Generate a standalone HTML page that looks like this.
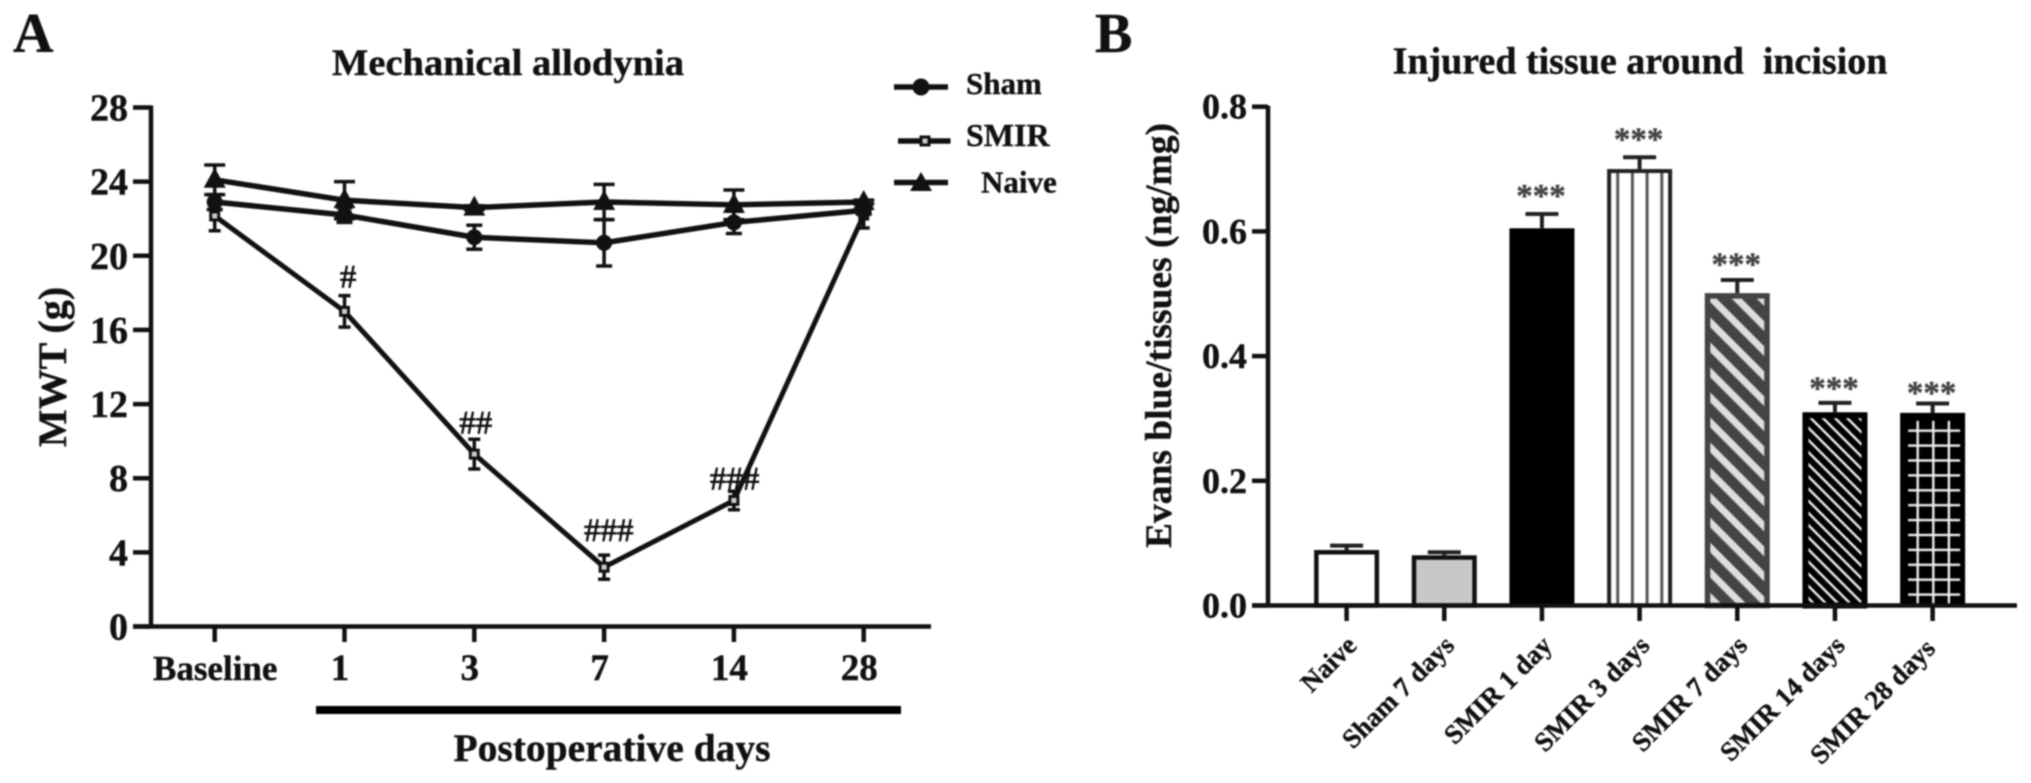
<!DOCTYPE html>
<html lang="en">
<head>
<meta charset="utf-8">
<title>Mechanical allodynia and injured tissue charts</title>
<style>
html,body{margin:0;padding:0;background:#fff;width:2031px;height:783px;overflow:hidden}
svg{display:block;filter:blur(0.8px)}
text{font-family:"Liberation Serif",serif;font-weight:bold;fill:#111;stroke:#111;stroke-width:0.4px;white-space:pre}
</style>
</head>
<body>
<svg id="fig" xmlns="http://www.w3.org/2000/svg" width="2031" height="783" viewBox="0 0 2031 783">
  <defs>
    <pattern id="vlines" patternUnits="userSpaceOnUse" x="1610.3" y="0" width="14.7" height="10">
      <rect width="14.7" height="10" fill="#fff"/>
      <rect x="5.9" width="3" height="10" fill="#555"/>
    </pattern>
    <pattern id="diag-wide" patternUnits="userSpaceOnUse" width="17.7" height="17.7" patternTransform="translate(1700 300) rotate(45)">
      <rect width="17.7" height="17.7" fill="#444"/>
      <rect y="5" width="17.7" height="7" fill="#ddd"/>
    </pattern>
    <pattern id="diag-fine" patternUnits="userSpaceOnUse" width="8.6" height="8.6" patternTransform="rotate(45)">
      <rect width="8.6" height="8.6" fill="#000"/>
      <rect y="3" width="8.6" height="2.4" fill="#eee"/>
    </pattern>
    <pattern id="grid" patternUnits="userSpaceOnUse" x="1910" y="423.25" width="15.6" height="14.9">
      <rect x="6.5" width="2.4" height="14.9" fill="#eee"/>
      <rect y="6.25" width="15.6" height="2.4" fill="#eee"/>
    </pattern>
  </defs>

  <text x="13" y="52" font-size="56">A</text>
  <text x="1095" y="52" font-size="56">B</text>

  <text x="508" y="75" font-size="37" text-anchor="middle" textLength="352" lengthAdjust="spacingAndGlyphs">Mechanical allodynia</text>
  <text x="1640" y="73.5" font-size="38" text-anchor="middle">Injured tissue around  incision</text>

  <text transform="translate(66 367) rotate(-90)" font-size="40" text-anchor="middle">MWT (g)</text>
  <text transform="translate(1171 335.5) rotate(-90)" font-size="37.5" text-anchor="middle">Evans blue/tissues (ng/mg)</text>

  <rect x="316" y="706" width="585" height="8" fill="#000"/>
  <text x="612" y="761" font-size="39.5" text-anchor="middle">Postoperative days</text>

  <g stroke="#111" fill="#111">
    <g>
      <line x1="894" y1="87" x2="948" y2="87" stroke-width="5.5"/>
      <circle cx="921" cy="87" r="8"/>
      <text x="966" y="94" font-size="31">Sham</text>
    </g>
    <g>
      <line x1="898" y1="141" x2="950.5" y2="141" stroke-width="5.5"/>
      <rect x="921" y="137" width="8" height="8" fill="#ccc" stroke-width="3"/>
      <text x="966" y="146" font-size="32">SMIR</text>
    </g>
    <g>
      <line x1="894" y1="182.5" x2="948" y2="182.5" stroke-width="5.5"/>
      <polygon points="921,172 932,191 910,191" stroke="none"/>
      <text x="981" y="192.5" font-size="31">Naive</text>
    </g>
  </g>

  <g id="chart-a"></g>
  <g id="chart-b"></g>
</svg>

<script>
// Chart A data
const timepoints = ['Baseline', '1', '3', '7', '14', '28'];
const mwtTicks = [0, 4, 8, 12, 16, 20, 24, 28];
const shamValues = [22.9, 22.2, 21.0, 20.7, 21.8, 22.45];
const shamErrors = [0.4, 0.4, 0.65, 1.25, 0.6, 0.2];
const smirValues = [22.15, 17.0, 9.3, 3.2, 6.8, 22.2];
const smirErrors = [0.8, 0.85, 0.8, 0.65, 0.5, 0.7];
const naiveValues = [24.1, 23.0, 22.6, 22.9, 22.75, 22.9];
const naiveErrors = [0.8, 1.0, 0.1, 0.95, 0.8, 0.1];
const hashMarks = ['', '#', '##', '###', '###', ''];
const hashLevels = [0, 18.3, 10.4, 4.6, 7.4, 0];

// Chart B data
const tissueGroups = ['Naive', 'Sham 7 days', 'SMIR 1 day', 'SMIR 3 days', 'SMIR 7 days', 'SMIR 14 days', 'SMIR 28 days'];
const evansTicks = ['0.0', '0.2', '0.4', '0.6', '0.8'];
const evansValues = [0.089, 0.0805, 0.605, 0.70, 0.501, 0.31, 0.309];
const evansErrors = [0.007, 0.005, 0.023, 0.019, 0.021, 0.015, 0.015];
const starMarks = ['', '', '***', '***', '***', '***', '***'];
const starLevels = [0, 0, 0.664, 0.755, 0.554, 0.355, 0.348];

const SVGNS = 'http://www.w3.org/2000/svg';
function make(parent, tag, attrs, content) {
  const el = document.createElementNS(SVGNS, tag);
  for (const k in attrs) el.setAttribute(k, attrs[k]);
  if (content !== undefined) el.textContent = content;
  parent.appendChild(el);
  return el;
}
function slug(s) { return String(s).toLowerCase().replace(/[^a-z0-9]+/g, '-'); }

/* ---------- Chart A ---------- */
const xA = i => 214.7 + i * 129.8;
const yA = v => 626.5 - v * (519 / 28);
const chartA = document.getElementById('chart-a');

function drawAxesA() {
  const yAxis = make(chartA, 'line', {x1: 151, y1: yA(28) - 2, x2: 151, y2: yA(0) + 2, stroke: '#111', 'stroke-width': 4.5});
  
  
  const xAxis = make(chartA, 'line', {x1: 133, y1: yA(0), x2: 931, y2: yA(0), stroke: '#111', 'stroke-width': 4.5});
  
  
  mwtTicks.forEach(t => {
    const tick = make(chartA, 'line', {x1: 133, y1: yA(t), x2: 151, y2: yA(t), stroke: '#111', 'stroke-width': 4.5});
    
    
    const label = make(chartA, 'text', {x: 128, y: yA(t) + 13, 'text-anchor': 'end', 'font-size': 38}, t);
    
    
  });
  timepoints.forEach((c, i) => {
    const tick = make(chartA, 'line', {x1: xA(i), y1: yA(0), x2: xA(i), y2: 642, stroke: '#111', 'stroke-width': 4.5});
    
    
    const label = make(chartA, 'text', {x: xA(i) + (i === 0 ? 0.5 : -4.5), y: 680, 'text-anchor': 'middle', 'font-size': i === 0 ? 35 : 37}, c);
    
    
  });
}

function drawMarker(group, kind, cx, cy) {
  if (kind === 'circle') return make(group, 'circle', {cx: cx, cy: cy, r: 8, fill: '#111'});
  if (kind === 'square') return make(group, 'rect', {x: cx - 4, y: cy - 4, width: 8, height: 8, fill: '#ccc', stroke: '#111', 'stroke-width': 3});
  return make(group, 'polygon', {points: (cx) + ',' + (cy - 12) + ' ' + (cx + 11) + ',' + (cy + 8) + ' ' + (cx - 11) + ',' + (cy + 8), fill: '#111'});
}

function drawSeries(name, values, errors, kind, capHalf, lineW) {
  const g = make(chartA, 'g', {});
  
  
  values.forEach((v, i) => {
    const e = errors[i];
    const bar = make(g, 'path', {
      d: 'M' + (xA(i) - capHalf) + ' ' + yA(v + e) + 'H' + (xA(i) + capHalf) +
         'M' + xA(i) + ' ' + yA(v + e) + 'V' + yA(v - e) +
         'M' + (xA(i) - capHalf) + ' ' + yA(v - e) + 'H' + (xA(i) + capHalf),
      fill: 'none', stroke: '#111', 'stroke-width': 3.5
    });
    
    
  });
  const line = make(g, 'polyline', {
    points: values.map((v, i) => xA(i) + ',' + yA(v)).join(' '),
    fill: 'none', stroke: '#111', 'stroke-width': lineW, 'stroke-linejoin': 'round'
  });
  
  
  values.forEach((v, i) => {
    const m = drawMarker(g, kind, xA(i), yA(v));
    
    
  });
}

drawAxesA();
drawSeries('smir', smirValues, smirErrors, 'square', 6, 5);
drawSeries('sham', shamValues, shamErrors, 'circle', 8, 5.5);
drawSeries('naive', naiveValues, naiveErrors, 'triangle', 10.5, 5.5);

function hashShift(i) { return [0, 3.6, 1.4, 4.6, 0.7, 0][i]; }
hashMarks.forEach((h, i) => {
  if (!h) return;
  const t = make(chartA, 'text', {x: xA(i) + hashShift(i), y: yA(hashLevels[i]), 'text-anchor': 'middle', 'font-size': 33, style: 'font-weight:normal;stroke-width:0.7px'}, h);
  
  
});

/* ---------- Chart B ---------- */
const xB = i => 1346.6 + i * 97.67;
const yB = v => 605.5 - v * 623.5;
const chartB = document.getElementById('chart-b');

function barLook(i) {
  return [
    {fill: '#fff', stroke: '#111', w: 4.5},
    {fill: '#c8c8c8', stroke: '#111', w: 4.5},
    {fill: '#000', stroke: '#000', w: 4},
    {fill: 'url(#vlines)', stroke: '#222', w: 4},
    {fill: 'url(#diag-wide)', stroke: '#444', w: 5.5},
    {fill: 'url(#diag-fine)', stroke: '#000', w: 6},
    {fill: '#000', stroke: '#000', w: 4}
  ][i];
}

tissueGroups.forEach((c, i) => {
  const v = evansValues[i], e = evansErrors[i], look = barLook(i), k = slug(c);
  const err = make(chartB, 'path', {
    d: 'M' + (xB(i) - 16.5) + ' ' + yB(v + e) + 'H' + (xB(i) + 16.5) + 'M' + xB(i) + ' ' + yB(v + e) + 'V' + yB(v),
    fill: 'none', stroke: '#222', 'stroke-width': 4
  });
  
  
  const bar = make(chartB, 'rect', {
    x: xB(i) - 32.5 + look.w / 2, y: yB(v) + look.w / 2,
    width: 65 - look.w, height: yB(0) - yB(v) - look.w / 2,
    fill: look.fill, stroke: look.stroke, 'stroke-width': look.w
  });
  
  
  if (i === 6) {
    const inner = make(chartB, 'rect', {x: xB(i) - 24.5, y: yB(v) + 8, width: 52, height: yB(0) - yB(v) - 10, fill: 'url(#grid)'});
    
    
  }
  const tick = make(chartB, 'line', {x1: xB(i), y1: yB(0), x2: xB(i), y2: 621, stroke: '#111', 'stroke-width': 4.5});
  
  
  const lx = xB(i) + (i === 6 ? 4 : 11.5);
  const ly = i === 6 ? 650 : 647;
  const label = make(chartB, 'text', {transform: 'translate(' + lx + ' ' + ly + ') rotate(-45)', 'text-anchor': 'end', 'font-size': 27}, c);
  
  
  if (starMarks[i]) {
    const star = make(chartB, 'text', {x: xB(i) - 1, y: yB(starLevels[i]) + 15, 'text-anchor': 'middle', 'font-size': 33, style: 'fill:#444;stroke:#444'}, starMarks[i]);
    
    
  }
});

const yAxisB = make(chartB, 'line', {x1: 1268, y1: yB(0.8) - 1, x2: 1268, y2: yB(0) + 2, stroke: '#111', 'stroke-width': 4.5});


const xAxisB = make(chartB, 'line', {x1: 1252, y1: yB(0), x2: 2017, y2: yB(0), stroke: '#111', 'stroke-width': 4.5});


evansTicks.forEach(t => {
  const v = parseFloat(t);
  const tick = make(chartB, 'line', {x1: 1252, y1: yB(v), x2: 1268, y2: yB(v), stroke: '#111', 'stroke-width': 4.5});
  
  
  const label = make(chartB, 'text', {x: 1247, y: yB(v) + 12, 'text-anchor': 'end', 'font-size': 36}, t);
  
  
});
</script>
</body>
</html>
